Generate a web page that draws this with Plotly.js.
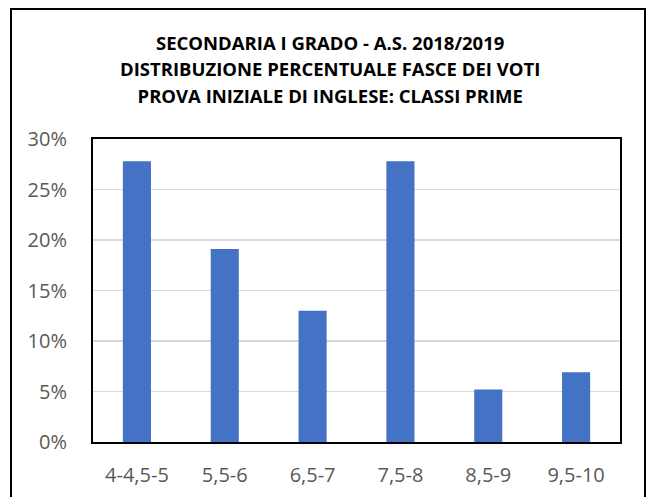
<!DOCTYPE html>
<html>
<head>
<meta charset="utf-8">
<script src="https://cdn.plot.ly/plotly-3.0.1.min.js"></script>
<style>
html,body{margin:0;padding:0;background:#fff;}
#wrap{position:relative;width:650px;height:497px;overflow:hidden;}
#chart{position:absolute;left:0;top:0;width:650px;height:497px;}
#frame{position:absolute;left:10px;top:8px;width:632px;height:520px;border:2px solid #000;pointer-events:none;}
</style>
</head>
<body>
<div id="wrap"><div id="chart"></div><div id="frame"></div></div>
<script>
var categories = ["4-4,5-5", "5,5-6", "6,5-7", "7,5-8", "8,5-9", "9,5-10"];
var percentages = [0.278, 0.191, 0.130, 0.278, 0.052, 0.069];
var yTickValues = [0, 0.05, 0.10, 0.15, 0.20, 0.25, 0.30];
var yTickLabels = ["0%", "5%", "10%", "15%", "20%", "25%", "30%"];
var titleLines = ["SECONDARIA I GRADO - A.S. 2018/2019", "DISTRIBUZIONE PERCENTUALE FASCE DEI VOTI", "PROVA INIZIALE DI INGLESE: CLASSI PRIME"];

var trace = {
  type: "bar",
  x: categories,
  y: percentages,
  marker: {color: "#4472C4"},
  hoverinfo: "x+y"
};

var tickFont = {family: "Open Sans, sans-serif", size: 20, color: "#595959"};

var titleText = titleLines.map(function (s) {
  return '<span style="font-size:18.5px">' + s + '</span>';
}).join("<br>");

var layout = {
  width: 650, height: 497,
  margin: {l: 93, r: 30, t: 139, b: 55, pad: 0},
  paper_bgcolor: "#ffffff",
  plot_bgcolor: "#ffffff",
  bargap: 0.68,
  showlegend: false,
  title: {
    text: titleText,
    font: {family: "Open Sans, sans-serif", size: 20.4, color: "#000000", weight: "bold"},
    x: 0.508, xanchor: "center",
    y: 0.900, yanchor: "middle",
    xref: "container", yref: "container"
  },
  xaxis: {
    type: "category",
    showline: true, mirror: true, linecolor: "#000000", linewidth: 2,
    showgrid: false, zeroline: false,
    ticks: "", tickfont: tickFont,
    ticklabelstandoff: 14
  },
  yaxis: {
    range: [0, 0.30],
    tickvals: yTickValues, ticktext: yTickLabels,
    showline: true, mirror: true, linecolor: "#000000", linewidth: 2,
    showgrid: true, gridcolor: "#d9d9d9", gridwidth: 1.5,
    zeroline: false,
    ticks: "", tickfont: tickFont,
    ticklabelstandoff: 20
  }
};

Plotly.newPlot("chart", [trace], layout, {displayModeBar: false, staticPlot: true});
</script>
</body>
</html>
